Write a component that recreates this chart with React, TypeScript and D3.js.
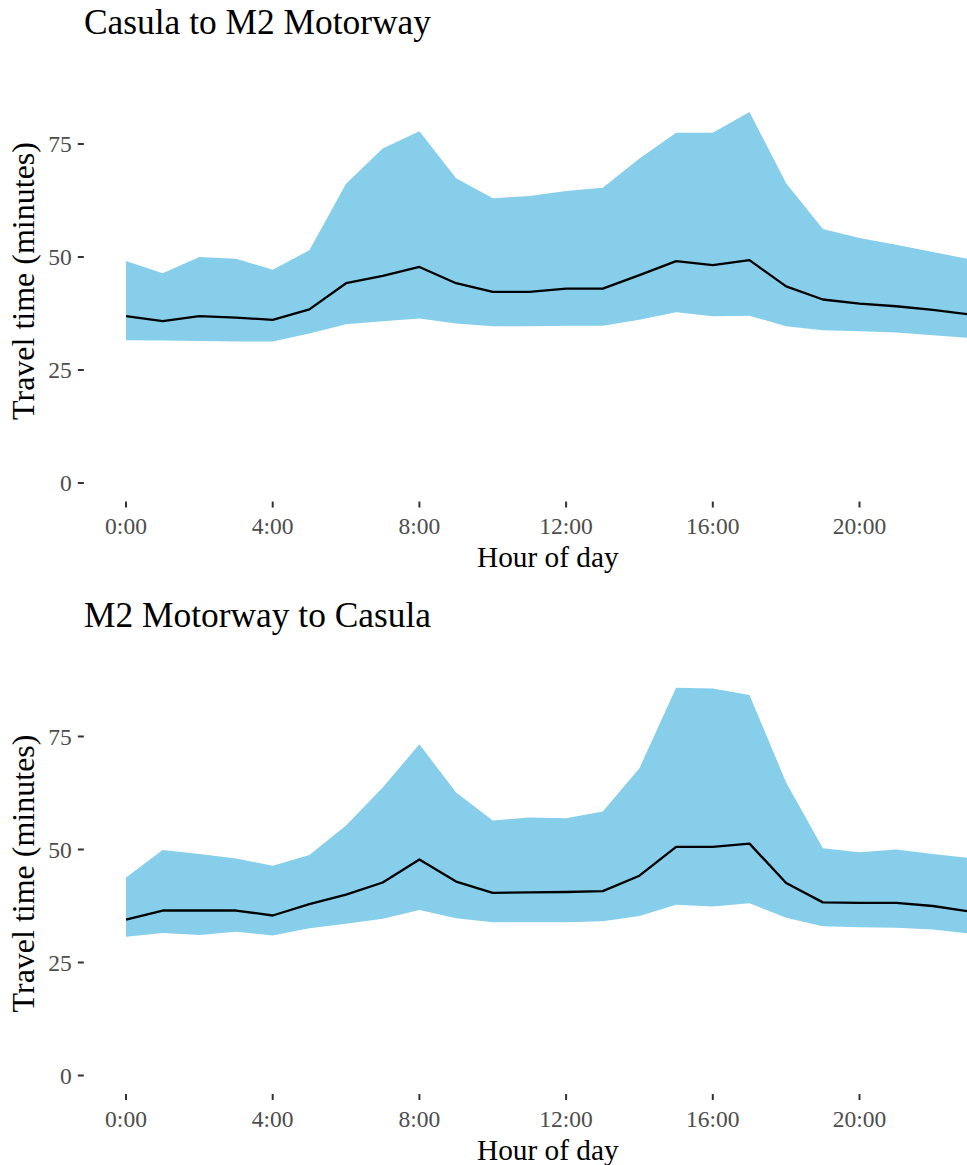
import React from "react";
import * as d3 from "d3";

const hours = [0, 1, 2, 3, 4, 5, 6, 7, 8, 9, 10, 11, 12, 13, 14, 15, 16, 17, 18, 19, 20, 21, 22, 23];
const xTickHours = [0, 4, 8, 12, 16, 20];
const xTickLabels = ["0:00", "4:00", "8:00", "12:00", "16:00", "20:00"];
const yTicks = [0, 25, 50, 75];

const panelTitles = ["Casula to M2 Motorway", "M2 Motorway to Casula"];

const topUpper = [49.1, 46.4, 50.0, 49.6, 47.2, 51.5, 66.2, 74.0, 77.8, 67.4, 63.0, 63.5, 64.6, 65.3, 71.8, 77.5, 77.5, 82.1, 66.3, 56.2, 54.2, 52.7, 51.1, 49.5];
const topMedian = [36.9, 35.8, 36.9, 36.6, 36.1, 38.4, 44.2, 45.8, 47.8, 44.2, 42.3, 42.3, 43.0, 43.0, 46.0, 49.1, 48.2, 49.3, 43.5, 40.6, 39.7, 39.1, 38.3, 37.3];
const topLower = [31.6, 31.5, 31.4, 31.3, 31.3, 33.1, 35.1, 35.8, 36.4, 35.3, 34.7, 34.7, 34.8, 34.8, 36.1, 37.8, 36.9, 37.0, 34.7, 33.8, 33.6, 33.3, 32.7, 32.1];

const botUpper = [43.8, 49.9, 49.0, 48.0, 46.4, 48.8, 55.3, 63.7, 73.3, 62.6, 56.4, 57.1, 56.9, 58.4, 68.0, 85.8, 85.6, 84.2, 64.8, 50.3, 49.4, 50.0, 49.0, 48.1];
const botMedian = [34.5, 36.5, 36.5, 36.5, 35.4, 37.9, 40.0, 42.7, 47.8, 42.9, 40.4, 40.5, 40.6, 40.8, 44.2, 50.6, 50.6, 51.3, 42.6, 38.3, 38.2, 38.2, 37.5, 36.3];
const botLower = [30.7, 31.5, 31.1, 31.8, 31.0, 32.6, 33.6, 34.7, 36.6, 34.8, 33.9, 33.9, 33.9, 34.1, 35.3, 37.8, 37.4, 38.1, 34.9, 33.0, 32.8, 32.7, 32.3, 31.4];

const W = 967;
const H = 1165;
const FONT = "'Liberation Serif', 'Times New Roman', serif";

type Row = { h: number; lo: number; med: number; hi: number };

function Panel({ title, upper, median, lower, dy }: { title: string; upper: number[]; median: number[]; lower: number[]; dy: number }) {
  const data: Row[] = hours.map((h, i) => ({ h, lo: lower[i], med: median[i], hi: upper[i] }));
  const x = d3.scaleLinear().domain([0, 4]).range([126, 272.7]);
  const y = d3.scaleLinear().domain([0, 75]).range([483 + dy, 144 + dy]);
  const panelLeft = x(-1.15);
  const panelBottom = y(-4.1);
  const area = d3.area<Row>().x((d) => x(d.h)).y0((d) => y(d.lo)).y1((d) => y(d.hi));
  const line = d3.line<Row>().x((d) => x(d.h)).y((d) => y(d.med));
  const xCenter = (x(-1.15) + x(24.15)) / 2;
  return (
    <g>
      <text x={84} y={34 + dy} fontFamily={FONT} fontSize={35.4} fill="#000">{title}</text>
      <path d={area(data) || ""} fill="#87CEEB" />
      <path d={line(data) || ""} fill="none" stroke="#000" strokeWidth={2.3} strokeLinejoin="round" />
      {yTicks.map((t) => (
        <g key={t}>
          <line x1={panelLeft - 6} x2={panelLeft} y1={y(t)} y2={y(t)} stroke="#333" strokeWidth={2} />
          <text x={panelLeft - 12} y={y(t)} dy="0.35em" textAnchor="end" fontFamily={FONT} fontSize={23.5} fill="#4D4D4D">{t}</text>
        </g>
      ))}
      {xTickHours.map((t, i) => (
        <g key={t}>
          <line x1={x(t)} x2={x(t)} y1={panelBottom} y2={panelBottom + 6} stroke="#333" strokeWidth={2} />
          <text x={x(t)} y={panelBottom + 32.5} textAnchor="middle" fontFamily={FONT} fontSize={23.5} fill="#4D4D4D">{xTickLabels[i]}</text>
        </g>
      ))}
      <text x={xCenter} y={567 + dy} textAnchor="middle" fontFamily={FONT} fontSize={29.3} fill="#000">Hour of day</text>
      <text transform={`translate(34,${281 + dy}) rotate(-90)`} textAnchor="middle" fontFamily={FONT} fontSize={32} fill="#000">Travel time (minutes)</text>
    </g>
  );
}

export default function App() {
  return (
    <svg width={W} height={H} style={{ position: "absolute", left: 0, top: 0, background: "#fff" }}>
      <rect x={0} y={0} width={W} height={H} fill="#fff" />
      <Panel title={panelTitles[0]} upper={topUpper} median={topMedian} lower={topLower} dy={0} />
      <Panel title={panelTitles[1]} upper={botUpper} median={botMedian} lower={botLower} dy={592.5} />
    </svg>
  );
}
